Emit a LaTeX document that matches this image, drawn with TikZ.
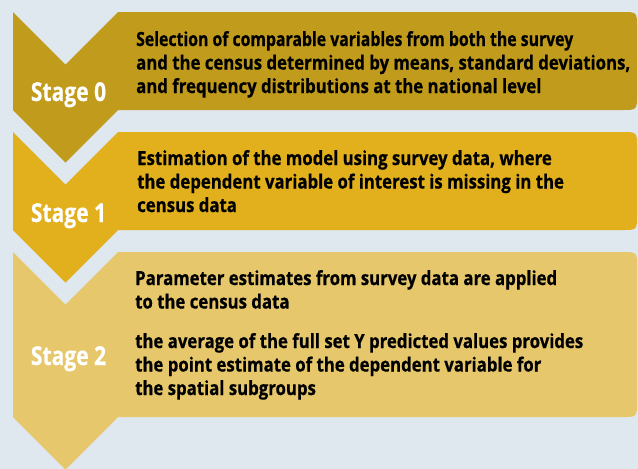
\documentclass[tikz,border=0pt]{standalone}
\usepackage{graphicx}
\usepackage{fontspec}
\setmainfont{Open Sans}[FakeStretch=0.86,BoldFont={* Bold},BoldFeatures={FakeStretch=0.86,FakeBold=0.6}]
\newfontfamily\stagefont{Open Sans Bold}[FakeStretch=0.81,FakeBold=0.4]
\definecolor{bgc}{HTML}{DFE7EF}
\definecolor{cA}{HTML}{C19B1B}
\definecolor{cB}{HTML}{E1B01C}
\definecolor{cC}{HTML}{E6C76C}
\tikzset{
  stagelbl/.style={text=white,font=\stagefont\fontsize{26}{30}\selectfont,anchor=base,inner sep=0pt},
  bodytxt/.style={text=black,font=\bfseries\fontsize{19.5}{23.5}\selectfont,align=left,anchor=base west,inner sep=0pt},
}
\begin{document}
\begin{tikzpicture}[x=1pt,y=-1pt]
\fill[bgc] (0,0) rectangle (638,469);
\useasboundingbox (0,0) rectangle (638,469);
% Stage 0
\fill[cA] (13,12) -- (65.5,64.5) -- (118,12) -- (622,12) .. controls (637,12) .. (637,27) -- (637,95) .. controls (637,110) .. (622,110) -- (118,110) -- (65.5,162.5) -- (13,110) -- cycle;
% Stage 1
\fill[cB] (13,132) -- (65.5,184.5) -- (118,132) -- (622,132) .. controls (637,132) .. (637,147) -- (637,215) .. controls (637,230) .. (622,230) -- (118,230) -- (65.5,282.5) -- (13,230) -- cycle;
% Stage 2
\fill[cC] (13,252) -- (65.5,304.5) -- (118,252) -- (622,252) .. controls (637,252) .. (637,267) -- (637,402) .. controls (637,417) .. (622,417) -- (118,417) -- (65.5,469.5) -- (13,417) -- cycle;

\node[stagelbl] (s0) at (68.5,101) {Stage 0};
\node[stagelbl] (s1) at (68.5,222) {Stage 1};
\node[stagelbl] (s2) at (68.5,365) {Stage 2};

\node[bodytxt] (t0a) at (136,46) {\scalebox{0.943}[1]{Selection of comparable variables from both the survey}};
\node[bodytxt] (t0b) at (136,69.5) {and the census determined by means, standard deviations,};
\node[bodytxt] (t0c) at (136,93) {and frequency distributions at the national level};

\node[bodytxt] (t1a) at (137,165) {Estimation of the model using survey data, where};
\node[bodytxt] (t1b) at (137,188.5) {the dependent variable of interest is missing in the};
\node[bodytxt] (t1c) at (137,212) {census data};

\node[bodytxt] (t2a) at (135,285) {Parameter estimates from survey data are applied};
\node[bodytxt] (t2b) at (135,308.5) {to the census data};
\node[bodytxt] (t2c) at (135,348) {the average of the full set Y predicted values provides};
\node[bodytxt] (t2d) at (135,371.5) {the point estimate of the dependent variable for};
\node[bodytxt] (t2e) at (135,395) {the spatial subgroups};
\end{tikzpicture}
\end{document}
